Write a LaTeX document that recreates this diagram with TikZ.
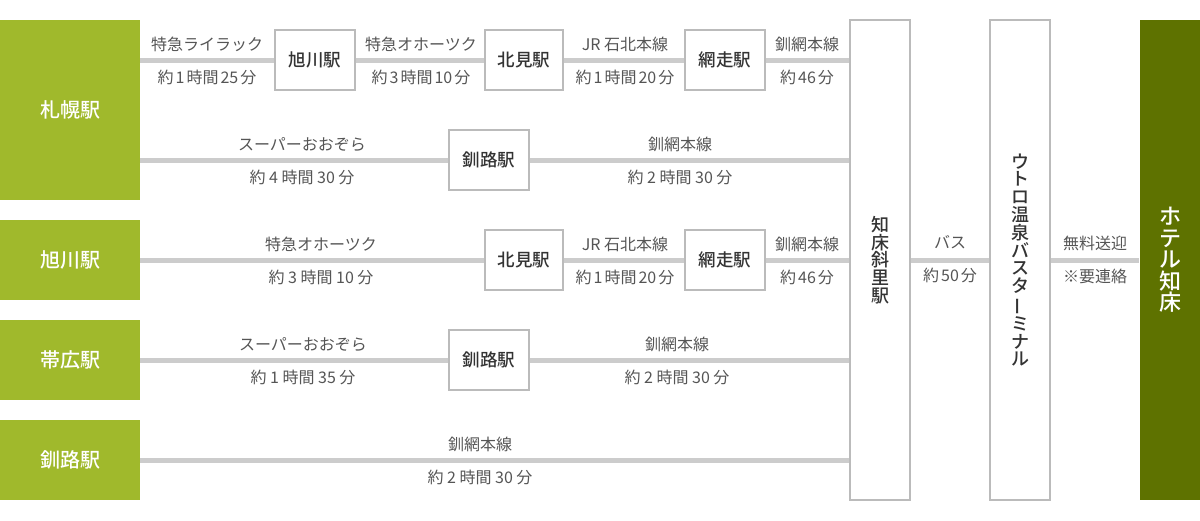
\documentclass[tikz,border=0pt]{standalone}
\usepackage{fontspec}
\setmainfont{Noto Sans CJK JP}[BoldFont={Noto Sans CJK JP Medium}]
\definecolor{lgreen}{HTML}{A0B92C}
\definecolor{dgreen}{HTML}{5E7200}
\definecolor{railc}{HTML}{CCCCCC}
\definecolor{lbl}{HTML}{555555}
\definecolor{stxt}{HTML}{333333}
\definecolor{sbord}{HTML}{BBBBBB}
\newcommand\tsp{\hspace{2pt}}
\newcommand\vbar{\rotatebox[origin=c]{90}{ー}}
\begin{document}
\begin{tikzpicture}[x=1pt,y=-1pt,
 origin/.style={fill=lgreen, text=white, font=\fontsize{20pt}{24pt}\selectfont\bfseries, minimum width=140pt, inner sep=0},
 stn/.style={draw=sbord, line width=1.2pt, fill=white, text=stxt, font=\fontsize{17.5pt}{20pt}\selectfont\bfseries, minimum height=60pt, inner sep=0},
 tall/.style={draw=sbord, line width=1.2pt, fill=white, text=stxt, minimum width=60pt, minimum height=480pt, inner sep=0, align=center, font=\fontsize{18pt}{17.8pt}\selectfont\bfseries},
 railline/.style={draw=railc, line width=5pt},
 lab/.style={text=lbl, font=\fontsize{16pt}{19pt}\selectfont, inner sep=0}]
\useasboundingbox (0,0) rectangle (1200,520);
% origin stations
\node[origin, minimum height=180pt] (sap) at (70,110) {札幌駅};
\node[origin, minimum height=80pt] (asa) at (70,260) {旭川駅};
\node[origin, minimum height=80pt] (obi) at (70,360) {帯広駅};
\node[origin, minimum height=80pt] (kus) at (70,460) {釧路駅};
% intermediate stations
\node[stn, minimum width=80pt] (a1) at (315,60) {旭川駅};
\node[stn, minimum width=78pt] (k1) at (524,60) {北見駅};
\node[stn, minimum width=80pt] (b1) at (725,60) {網走駅};
\node[stn, minimum width=80pt] (r2) at (489,160) {釧路駅};
\node[stn, minimum width=78pt] (k3) at (524,260) {北見駅};
\node[stn, minimum width=80pt] (b3) at (725,260) {網走駅};
\node[stn, minimum width=80pt] (r4) at (489,360) {釧路駅};
% tall boxes
\node[tall] (shari) at (880,260) {知\\床\\斜\\里\\駅};
\node[tall] (utoro) at (1020,260) {ウ\\ト\\ロ\\温\\泉\\バ\\ス\\タ\\\vbar\\ミ\\ナ\\ル};
\node[tall, draw=none, fill=dgreen, text=white, font=\fontsize{22pt}{21.5pt}\selectfont\bfseries] (hotel) at (1170,260) {ホ\\テ\\ル\\知\\床};
% rails
\draw[railline] (sap.east |- a1.west) -- (a1.west);
\draw[railline] (a1.east) -- (k1.west);
\draw[railline] (k1.east) -- (b1.west);
\draw[railline] (b1.east) -- (b1.east -| shari.west);
\draw[railline] (sap.east |- r2.west) -- (r2.west);
\draw[railline] (r2.east) -- (r2.east -| shari.west);
\draw[railline] (asa.east) -- (k3.west);
\draw[railline] (k3.east) -- (b3.west);
\draw[railline] (b3.east) -- (b3.east -| shari.west);
\draw[railline] (obi.east) -- (r4.west);
\draw[railline] (r4.east) -- (r4.east -| shari.west);
\draw[railline] (kus.east) -- (kus.east -| shari.west);
\draw[railline] (shari.east) -- (utoro.west);
\draw[railline] (utoro.east) -- (hotel.west);
% labels row 1
\node[lab] (l1a) at (207,44.5) {特急ライラック};
\node[lab] (l1b) at (207,77) {約\tsp 1\tsp 時間\tsp 25\tsp 分};
\node[lab] (l2a) at (421,44.5) {特急オホーツク};
\node[lab] (l2b) at (421,77) {約\tsp 3\tsp 時間\tsp 10\tsp 分};
\node[lab] (l3a) at (625,44.5) {JR 石北本線};
\node[lab] (l3b) at (625,77) {約\tsp 1\tsp 時間\tsp 20\tsp 分};
\node[lab] (l4a) at (807,44.5) {釧網本線};
\node[lab] (l4b) at (807,77) {約\tsp 46\tsp 分};
% row 2
\node[lab] (m1a) at (302,144.5) {スーパーおおぞら};
\node[lab] (m1b) at (302,177) {約 4 時間 30 分};
\node[lab] (m2a) at (680,144.5) {釧網本線};
\node[lab] (m2b) at (680,177) {約 2 時間 30 分};
% row 3
\node[lab] (n1a) at (321,244.5) {特急オホーツク};
\node[lab] (n1b) at (321,277) {約 3 時間 10 分};
\node[lab] (n2a) at (625,244.5) {JR 石北本線};
\node[lab] (n2b) at (625,277) {約\tsp 1\tsp 時間\tsp 20\tsp 分};
\node[lab] (n3a) at (807,244.5) {釧網本線};
\node[lab] (n3b) at (807,277) {約\tsp 46\tsp 分};
% row 4
\node[lab] (o1a) at (303,344.5) {スーパーおおぞら};
\node[lab] (o1b) at (303,377) {約 1 時間 35 分};
\node[lab] (o2a) at (677,344.5) {釧網本線};
\node[lab] (o2b) at (677,377) {約 2 時間 30 分};
% row 5
\node[lab] (p1a) at (480,444.5) {釧網本線};
\node[lab] (p1b) at (480,477) {約 2 時間 30 分};
% bus and transfer
\node[lab] (q1a) at (950,242.5) {バス};
\node[lab] (q1b) at (950,275) {約\tsp 50\tsp 分};
\node[lab] (q2a) at (1095,243) {無料送迎};
\node[lab] (q2b) at (1095,276) {※要連絡};
\end{tikzpicture}
\end{document}
